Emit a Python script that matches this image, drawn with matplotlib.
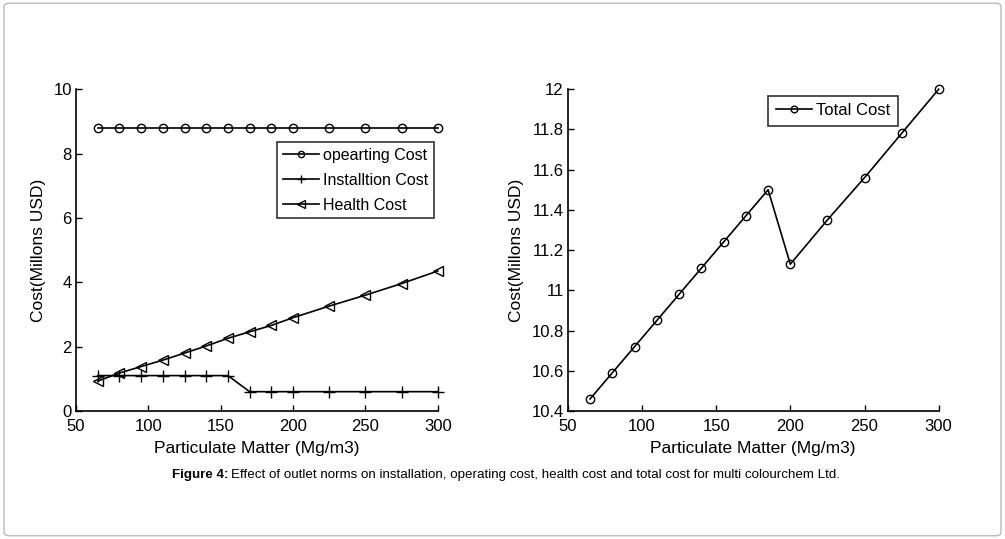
import matplotlib
matplotlib.use("Agg")
import matplotlib.pyplot as plt
from matplotlib.patches import FancyBboxPatch

plt.rcParams['font.family'] = ['Liberation Sans', 'DejaVu Sans']

# particulate matter levels (Mg/m3)
pm = [65, 80, 95, 110, 125, 140, 155, 170, 185, 200, 225, 250, 275, 300]

# costs in millions USD
operating = [8.8] * 14
installation = [1.1, 1.1, 1.1, 1.1, 1.1, 1.1, 1.1, 0.6, 0.6, 0.6, 0.6, 0.6, 0.6, 0.6]
health = [0.93, 1.18, 1.38, 1.58, 1.80, 2.02, 2.26, 2.46, 2.66, 2.90, 3.26, 3.60, 3.96, 4.35]
total = [10.46, 10.59, 10.72, 10.85, 10.98, 11.11, 11.24, 11.37, 11.50, 11.13, 11.35, 11.56, 11.78, 12.00]

left_ticks = [0, 2, 4, 6, 8, 10]
right_ticks = [10.4, 10.6, 10.8, 11, 11.2, 11.4, 11.6, 11.8, 12]
right_labels = ['10.4', '10.6', '10.8', '11', '11.2', '11.4', '11.6', '11.8', '12']
x_ticks = [50, 100, 150, 200, 250, 300]

fig = plt.figure(figsize=(10.05, 5.39), dpi=100)

# rounded gray border of the figure panel
border = FancyBboxPatch((0.004, 0.006), 0.992, 0.988, boxstyle="round,pad=0,rounding_size=0.006",
                        transform=fig.transFigure, fill=False, edgecolor='#bbbbbb', linewidth=1)
fig.patches.append(border)


def style_axes(ax):
    ax.spines['top'].set_visible(False)
    ax.spines['right'].set_visible(False)
    for s in ['left', 'bottom']:
        ax.spines[s].set_linewidth(1.2)
    ax.tick_params(direction='in', length=4, width=1, labelsize=12)
    ax.tick_params(axis='x', pad=5.5)
    ax.tick_params(axis='y', pad=3)
    ax.set_xlim(50, 300)
    ax.set_xticks(x_ticks)
    ax.set_xlabel('Particulate Matter (Mg/m3)', fontsize=12.5, labelpad=5)
    ax.set_ylabel('Cost(Millons USD)', fontsize=12.5, labelpad=5)


ax1 = fig.add_axes([0.0756, 0.2375, 0.360, 0.597])
ax1.plot(pm, operating, color='black', lw=1.2, marker='o', ms=6, mfc='none', mew=1,
         clip_on=False, label='opearting Cost')
ax1.plot(pm, installation, color='black', lw=1.2, marker='+', ms=8, mew=1,
         clip_on=False, label='Installtion Cost')
ax1.plot(pm, health, color='black', lw=1.2, marker='<', ms=7, mfc='none', mew=1,
         clip_on=False, label='Health Cost')
ax1.set_ylim(0, 10)
ax1.set_yticks(left_ticks)
style_axes(ax1)
leg1 = ax1.legend(loc='upper right', bbox_to_anchor=(0.99, 0.835), fontsize=11.5, frameon=True,
                  fancybox=False, edgecolor='black', borderpad=0.35, labelspacing=0.62,
                  handlelength=2.3, handletextpad=0.25, borderaxespad=0, markerscale=0.75)
leg1.get_frame().set_linewidth(1.2)

ax2 = fig.add_axes([0.565, 0.2375, 0.369, 0.597])
ax2.plot(pm, total, color='black', lw=1.2, marker='o', ms=6, mfc='none', mew=1,
         clip_on=False, label='Total Cost')
ax2.set_ylim(10.4, 12)
ax2.set_yticks(right_ticks)
ax2.set_yticklabels(right_labels)
style_axes(ax2)
leg2 = ax2.legend(loc='upper left', bbox_to_anchor=(0.54, 0.98), fontsize=12, frameon=True,
                  fancybox=False, edgecolor='black', borderpad=0.45, handlelength=2.2,
                  handletextpad=0.25, borderaxespad=0, markerscale=0.8)
leg2.get_frame().set_linewidth(1.2)

cap_y = 1 - 475 / 539
fig.text(228 / 1005, cap_y, 'Figure 4:', fontsize=9.6, fontweight='bold', ha='right', va='center')
fig.text(231 / 1005, cap_y,
         'Effect of outlet norms on installation, operating cost, health cost and total cost for multi colourchem Ltd.',
         fontsize=9.6, ha='left', va='center')

fig.savefig('out.png', dpi=100)
